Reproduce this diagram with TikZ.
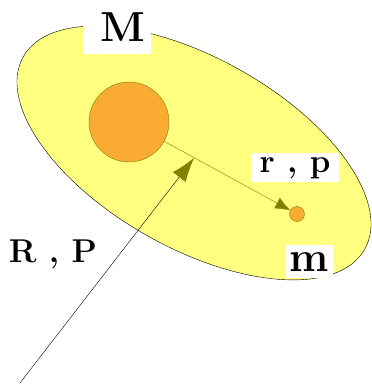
\documentclass[tikz,border=0pt]{standalone}
\usepackage{tikz}
\usetikzlibrary{arrows.meta}
\definecolor{jaune}{RGB}{255,255,128}
\definecolor{orange}{RGB}{250,172,50}
\definecolor{olive}{RGB}{128,128,0}

\begin{document}
\begin{tikzpicture}[x=1pt, y=1pt,
	masse/.style={circle, draw=olive, fill=orange, inner sep=0pt},
	etiquette/.style={fill=white, inner sep=0pt, font=\bfseries}]
	\useasboundingbox (0,0) rectangle (372,384);
	% le systeme
	\draw[fill=jaune, rotate around={-29.4:(194,231)}]
		(194,231) ellipse [x radius=196pt, y radius=95pt];
	\node[masse, minimum size=80pt] (grand) at (129,262) {};
	\node[masse, minimum size=15pt] (petit) at (297,170) {};
	% vecteurs
	\coordinate (origine) at (20,1);
	\coordinate (centre) at (194,226);
	\draw[olive, -{Latex[length=15pt, width=12pt]}] (grand) -- (petit);
	\draw[-{Latex[length=24pt, width=16pt, color=olive, fill=olive]}] (origine) -- (centre);
	% textes
	\node[etiquette, minimum width=68pt, minimum height=54pt,
		font=\bfseries\fontsize{42}{44}\selectfont] (M) at (117,357) {\hspace{12pt}M};
	\node[etiquette, minimum width=48pt, minimum height=33pt,
		font=\bfseries\fontsize{42}{44}\selectfont] (m) at (309,122) {m};
	\node[etiquette, minimum width=88pt, minimum height=29pt,
		font=\bfseries\fontsize{33}{35}\selectfont] (rp) at (295,216) {r , p};
	\node[font=\bfseries\fontsize{33}{35}\selectfont] (RP) at (53,130) {R , P};
\end{tikzpicture}
\end{document}
